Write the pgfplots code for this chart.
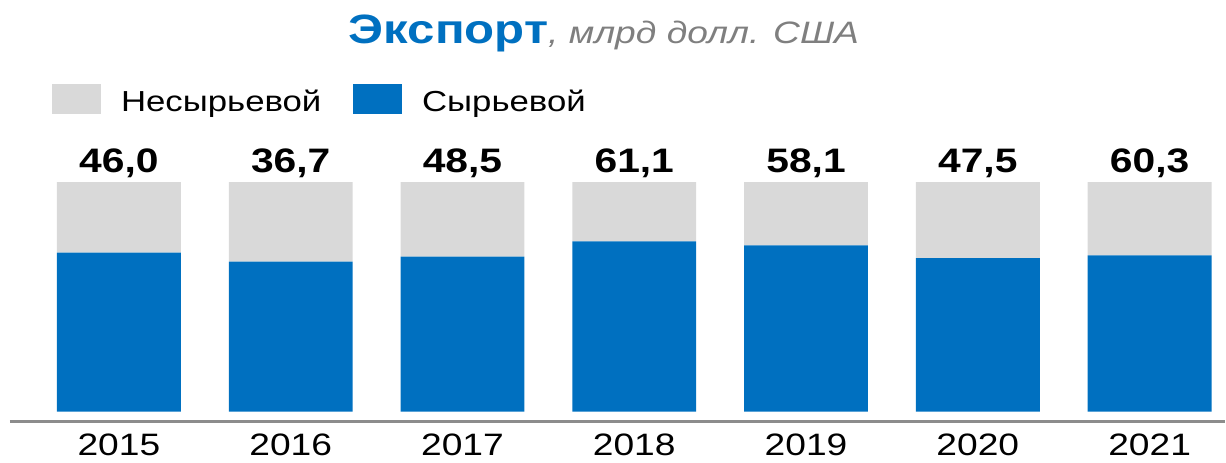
\documentclass[border=0pt]{standalone}
\usepackage{fontspec}
\setmainfont{Liberation Sans}[FakeStretch=1.2]
\usepackage{pgfplots}
\usepackage{pgfplotstable}
\pgfplotsset{compat=1.18}

\definecolor{rawblue}{HTML}{0070C0}
\definecolor{nonraw}{HTML}{D9D9D9}
\definecolor{titlegray}{HTML}{7F7F7F}
\definecolor{axgray}{HTML}{8C8C8C}

% shares of the bar, percent; label = total export, mlrd USD
\pgfplotstableread{
x  raw   nonraw  full  label
0  69.2  30.8    100   46,0
1  65.3  34.7    100   36,7
2  67.5  32.5    100   48,5
3  74.1  25.9    100   61,1
4  72.4  27.6    100   58,1
5  66.9  33.1    100   47,5
6  68.0  32.0    100   60,3
}\exports

\pgfplotsset{frame/.style={
  at={(0,0)}, anchor=south west,
  scale only axis,
  width=608pt, height=119.85pt,
  xmin=-0.634, xmax=6.436,
  ymin=-4.35, ymax=100,
  clip=false}}

\begin{document}
\begin{tikzpicture}
\begin{axis}[
  frame,
  ybar stacked,
  bar width=0.721,
  axis x line*=bottom,
  axis y line=none,
  x axis line style={draw=axgray, line width=1.5pt},
  xtick=data,
  xticklabels={2015,2016,2017,2018,2019,2020,2021},
  major tick length=0pt,
  xtick style={draw=none},
  xticklabel style={anchor=base, yshift=-17pt, font=\fontsize{15.5pt}{18pt}\selectfont},
  title={{\color{rawblue}\fontsize{20.5pt}{24pt}\selectfont\bfseries Экспорт}{\color{titlegray}\fontsize{15.5pt}{18pt}\selectfont\itshape , млрд долл. США}},
  title style={at={(0.489,1.527)}, anchor=base, inner sep=0pt},
  legend columns=2,
  legend style={at={(0,1)}, anchor=south west, xshift=18pt, yshift=29.5pt,
    draw=none, fill=none, font=\fontsize{14.5pt}{18pt}\selectfont,
    /tikz/every odd column/.append style={column sep=8pt},
    /tikz/every even column/.append style={column sep=14pt}},
  legend cell align=left,
]
\addlegendimage{legend image code/.code={\fill[nonraw] (0pt,-5.35pt) rectangle (24pt,9.15pt);}}
\addlegendimage{legend image code/.code={\fill[rawblue] (0pt,-5.35pt) rectangle (24pt,9.15pt);}}
\legend{Несырьевой, Сырьевой}
\addplot[fill=rawblue, draw=none] table[x=x, y=raw] {\exports};
\addplot[fill=nonraw, draw=none] table[x=x, y=nonraw] {\exports};
\end{axis}
% same frame, not stacked: totals above the bars
\begin{axis}[frame, hide axis]
\addplot[only marks, mark=none,
  nodes near coords, point meta=explicit symbolic,
  nodes near coords style={anchor=base, yshift=4.65pt, text=black,
    font=\fontsize{17pt}{20pt}\selectfont\bfseries}]
  table[x=x, y=full, meta=label] {\exports};
\end{axis}
\useasboundingbox (-5pt,-18.5pt) rectangle (608pt,211pt);
\end{tikzpicture}
\end{document}
